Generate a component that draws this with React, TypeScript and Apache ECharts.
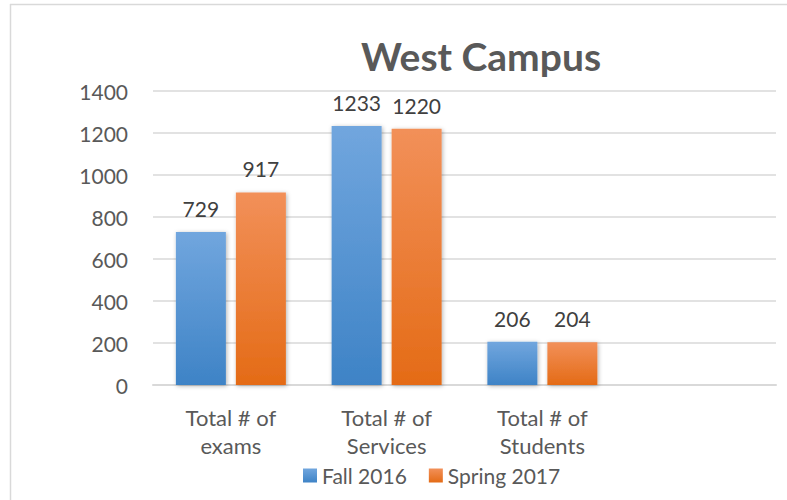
import React, { useEffect, useRef } from "react";
import * as echarts from "echarts";

const categories = ["Total # of\nexams", "Total # of\nServices", "Total # of\nStudents", ""];
const fall2016 = [729, 1233, 206, null];
const spring2017 = [917, 1220, 204, null];
const seriesNames = ["Fall 2016", "Spring 2017"];
const yTicks = { min: 0, max: 1400, interval: 200 };
const FONT = "Lato, 'Open Sans', sans-serif";

export default function App() {
  const ref = useRef<HTMLDivElement>(null);
  useEffect(() => {
    if (!ref.current) return;
    const chart = echarts.init(ref.current, null, { renderer: "svg" });
    const blue = new echarts.graphic.LinearGradient(0, 0, 0, 1, [
      { offset: 0, color: "#71a6de" },
      { offset: 1, color: "#3e83c6" },
    ]);
    const orange = new echarts.graphic.LinearGradient(0, 0, 0, 1, [
      { offset: 0, color: "#f29059" },
      { offset: 1, color: "#e46b16" },
    ]);
    const labelStyle = {
      show: true,
      position: "top" as const,
      distance: 13,
      color: "#404040",
      fontSize: 21,
      fontFamily: FONT,
    };
    const barCommon = {
      type: "bar" as const,
      barWidth: 50,
      barGap: "20%",
      label: labelStyle,
    };
    chart.setOption({
      animation: false,
      backgroundColor: "#ffffff",
      title: {
        text: "West Campus",
        left: 476,
        textAlign: "center",
        top: 31,
        textStyle: { fontSize: 39, fontWeight: "bold", color: "#595959", fontFamily: FONT },
      },
      legend: {
        data: seriesNames,
        left: 298,
        top: 460,
        itemWidth: 14,
        itemHeight: 14,
        itemGap: 22,
        icon: "rect",
        textStyle: { fontSize: 21, color: "#595959", fontFamily: FONT },
      },
      grid: { left: 153, right: 11, top: 91, bottom: 115, containLabel: false },
      xAxis: {
        type: "category",
        data: categories,
        axisLine: { lineStyle: { color: "#d9d9d9", width: 2 } },
        axisTick: { show: false },
        axisLabel: {
          color: "#595959",
          fontSize: 22,
          fontFamily: FONT,
          lineHeight: 28,
          margin: 18,
          interval: 0,
        },
      },
      yAxis: {
        type: "value",
        min: yTicks.min,
        max: yTicks.max,
        interval: yTicks.interval,
        axisLine: { show: false },
        axisTick: { show: false },
        splitLine: { lineStyle: { color: "#d9d9d9", width: 1.5 } },
        axisLabel: {
          color: "#595959",
          fontSize: 21,
          fontFamily: FONT,
          margin: 25,
          formatter: (v: number) => String(v),
        },
      },
      series: [
        {
          ...barCommon,
          name: seriesNames[0],
          data: fall2016,
          itemStyle: {
            color: blue,
            shadowBlur: 4,
            shadowColor: "rgba(0,0,0,0.3)",
            shadowOffsetX: 1,
            shadowOffsetY: 1,
          },
        },
        {
          ...barCommon,
          name: seriesNames[1],
          data: spring2017,
          itemStyle: {
            color: orange,
            shadowBlur: 4,
            shadowColor: "rgba(0,0,0,0.3)",
            shadowOffsetX: 1,
            shadowOffsetY: 1,
          },
        },
      ],
      graphic: [
        {
          type: "line",
          shape: { x1: 10, y1: 4.5, x2: 787, y2: 4.5 },
          style: { stroke: "#d9d9d9", lineWidth: 1.5 },
          silent: true,
        },
        {
          type: "line",
          shape: { x1: 10.5, y1: 4, x2: 10.5, y2: 500 },
          style: { stroke: "#d9d9d9", lineWidth: 1.5 },
          silent: true,
        },
      ],
    });
    return () => chart.dispose();
  }, []);
  return (
    <div
      ref={ref}
      style={{ position: "fixed", left: 0, top: 0, width: 787, height: 500, background: "#fff" }}
    />
  );
}
